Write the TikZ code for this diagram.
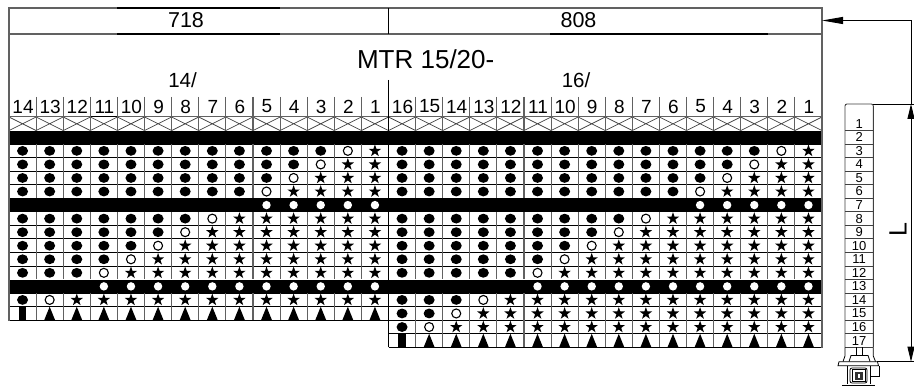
\documentclass[tikz,border=0pt]{standalone}
\usepackage{fontspec}
\setmainfont{Liberation Sans}
\usetikzlibrary{arrows.meta}
\definecolor{gridgray}{gray}{0.38}
\newcommand{\fs}[1]{\fontsize{#1}{#1}\selectfont}
\newcommand{\starshape}[2]{\fill[shift={(#1,#2)},scale=1.1] (0,-5.8)--(1.4,-1.8)--(5.6,-1.8)--(2.2,0.8)--(3.5,4.8)--(0,2.3)--(-3.5,4.8)--(-2.2,0.8)--(-5.6,-1.8)--(-1.4,-1.8)--cycle;}
% one column of symbols: #1 = centre x, #2 = column number, #3 = last row of block
\newcommand{\symbolcolumn}[3]{%
  \pgfmathtruncatemacro{\lastsym}{#3-1}%
  \foreach \r in {2,...,\lastsym}{%
    \pgfmathsetmacro{\cy}{117+13.55*(\r+0.5)}%
    \ifnum\r=6\relax
      \ifnum#2<\r\relax\fill[white] (#1,\cy) circle[radius=4.2];\fi
    \else\ifnum\r=12\relax
      \ifnum#2<\r\relax\fill[white] (#1,\cy) circle[radius=4.2];\fi
    \else
      \ifnum\r<#2\relax
        \fill (#1,\cy) ellipse[x radius=5.5,y radius=4.9];
      \else\ifnum\r=#2\relax
        \draw[line width=1.1pt] (#1,\cy) circle[radius=4.5];
      \else
        \starshape{#1}{\cy}
      \fi\fi
    \fi\fi
  }%
  \pgfmathsetmacro{\ty}{117+13.55*#3}%
  \pgfmathsetmacro{\by}{117+13.55*(#3+1)}%
  \ifnum#2=#3\relax
    \fill (#1-3.9,\ty) rectangle (#1+3.9,\by);
  \else
    \fill (#1,\ty) -- (#1+5.5,\by) -- (#1-5.5,\by) -- cycle;
  \fi
}
\tikzset{
  x=1pt,y=-1pt,
  label text/.style={inner sep=0pt,outer sep=0pt,text=black},
  gridv/.style={draw=gridgray,line width=1.1pt},
  gridh/.style={draw=black,line width=1pt},
  frame/.style={draw=gridgray,line width=1.2pt},
  heavy/.style={draw=black,line width=1.4pt},
  cross/.style={draw=black!75,line width=0.7pt},
  dim/.style={draw=black,line width=0.9pt},
  dimarrow/.style={dim,-{Triangle[length=15pt,width=7pt]}},
  longarrow/.style={dim,-{Triangle[length=21pt,width=7pt]}},
  thinpart/.style={draw=black,line width=0.8pt},
  rulerline/.style={draw=black!75,line width=0.9pt},
}
\begin{document}
\begin{tikzpicture}
\useasboundingbox (0,0) rectangle (914,387);
\fill[white] (0,0) rectangle (914,387);

% black bands
\foreach \r in {1,6,12}{
  \pgfmathsetmacro{\ya}{117+13.55*\r}
  \pgfmathsetmacro{\yb}{117+13.55*(\r+1)}
  \fill (9,\ya) rectangle (822,\yb);
}

% horizontal grid lines
\foreach \r in {2,3,4,5,7,8,9,10,11,13,14,15}{
  \pgfmathsetmacro{\ya}{117+13.55*\r}
  \draw[gridh] (9,\ya) -- (822,\ya);
}
\foreach \r in {16,17}{
  \pgfmathsetmacro{\ya}{117+13.55*\r}
  \draw[gridh] (388.5,\ya) -- (822,\ya);
}
\draw[draw=gridgray,line width=1pt] (9,117) -- (822,117);
\draw[heavy,line width=1pt] (90,117) -- (117,117);

% left block columns
\foreach \n in {14,...,1}{
  \pgfmathsetmacro{\xa}{9+27.107*(14-\n)}
  \pgfmathsetmacro{\xb}{\xa+27.107}
  \pgfmathsetmacro{\xc}{\xa+13.55}
  \draw[cross] (\xa,117) -- (\xb,130.55) (\xa,130.55) -- (\xb,117);
  \ifnum\n<14
    \draw[gridv] (\xa,97) -- (\xa,130.5);
    \draw[gridv] (\xa,144.1) -- (\xa,198.2);
    \draw[gridv] (\xa,211.8) -- (\xa,279.5);
    \draw[gridv] (\xa,293.1) -- (\xa,320.2);
  \fi
  \node[label text,font=\fs{19}] (leftnum\n) at (\xc+0.5,106.5) {\n};
  \symbolcolumn{\xc}{\n}{14}
}

% right block columns
\foreach \n in {16,...,1}{
  \pgfmathsetmacro{\xa}{388.5+27.094*(16-\n)}
  \pgfmathsetmacro{\xb}{\xa+27.094}
  \pgfmathsetmacro{\xc}{\xa+13.55}
  \draw[cross] (\xa,117) -- (\xb,130.55) (\xa,130.55) -- (\xb,117);
  \ifnum\n<16
    \draw[gridv] (\xa,97) -- (\xa,130.5);
    \draw[gridv] (\xa,144.1) -- (\xa,198.2);
    \draw[gridv] (\xa,211.8) -- (\xa,279.5);
    \draw[gridv] (\xa,293.1) -- (\xa,347.3);
  \fi
  \node[label text,font=\fs{19}] (rightnum\n) at (\xc+0.5,106.5) {\n};
  \symbolcolumn{\xc}{\n}{16}
}

% bottom edges
\draw[draw=black,line width=1.1pt] (9,320.2) -- (388.5,320.2);
\draw[draw=black,line width=1.1pt] (388.5,347.3) -- (822,347.3);

% frame
\draw[frame] (9,320.7) -- (9,8) -- (822,8) -- (822,347.8);
\draw[frame] (9,34) -- (822,34);
\draw[heavy] (117,8) -- (280,8);
\draw[heavy] (117,34) -- (280,34);
\draw[heavy] (550,34) -- (768,34);
\draw[thinpart] (388.5,8) -- (388.5,34.5);
\draw[thinpart] (388.5,80) -- (388.5,347.3);

% titles
\node[label text,font=\fs{21.5}] (w718) at (186,20.5) {718};
\node[label text,font=\fs{21.5}] (w808) at (578.5,20.5) {808};
\node[label text,font=\fs{26}] (title) at (425.7,59.5) {MTR 15/20-};
\node[label text,font=\fs{20.5}] (g14) at (182.5,80) {14/};
\node[label text,font=\fs{20.5}] (g16) at (576,80) {16/};

% ruler on the right
\draw[rulerline,rounded corners=2pt] (845,347.3) -- (845,104) -- (873.3,104) -- (873.3,347.3);
\foreach \k in {1,...,17}{
  \pgfmathsetmacro{\ya}{117+13.55*\k}
  \pgfmathsetmacro{\yc}{117+13.55*(\k-0.5)}
  \draw[rulerline] (845,\ya) -- (873.3,\ya);
  \node[label text,font=\fs{13}] (rul\k) at (859.2,\yc) {\k};
}

% foot of the ruler
\begin{scope}[line width=0.8pt]
  \draw (845,347.3) -- (845,356) -- (843,361.5);
  \draw (873.3,347.3) -- (873.3,356) -- (875.5,361.5);
  \draw (856,347.3) -- (856,355) (862,347.3) -- (862,355);
  \draw (849,361.5) -- (851,355.5) -- (868,355.5) -- (870,361.5);
  \draw (839,361.7) -- (877.5,361.7) -- (878.5,365.8) -- (838,365.8) -- cycle;
  \draw (847.5,365.8) -- (847.5,384.5) (870,365.8) -- (870,384.5);
  \draw[rounded corners=2pt] (850,368) rectangle (867,383);
  \draw (852,369.5) rectangle (865,381.5);
  \draw (870,376.5) -- (879,376.5) -- (879,365.8);
  \draw[line width=1pt] (842,385.5) -- (875,385.5);
\end{scope}
\fill[black!80] (854.5,372) rectangle (862.5,380.5);
\fill[white] (857.5,374.5) rectangle (859.5,378);

% dimensions
\coordinate (outerTip) at (822,20.5);
\coordinate (dimCorner) at (911,20.5);
\coordinate (rulerTop) at (873.3,104);
\coordinate (rulerTopEnd) at (914,104);
\coordinate (dimTop) at (911,104);
\coordinate (dimMid) at (911,230);
\coordinate (dimBottom) at (911,361.7);
\coordinate (footRight) at (877,361.7);
\coordinate (footEnd) at (914,361.7);
\draw[dim] (rulerTop) -- (rulerTopEnd);
\draw[dim] (footRight) -- (footEnd);
\draw[longarrow] (dimCorner) -- (outerTip);
\draw[dim] (dimCorner) -- (dimTop);
\draw[dimarrow] (dimMid) -- (dimTop);
\draw[dimarrow] (dimMid) -- (dimBottom);
\node[label text,font=\fs{25},rotate=90] (dimL) at (898,230) {L};
\end{tikzpicture}
\end{document}
